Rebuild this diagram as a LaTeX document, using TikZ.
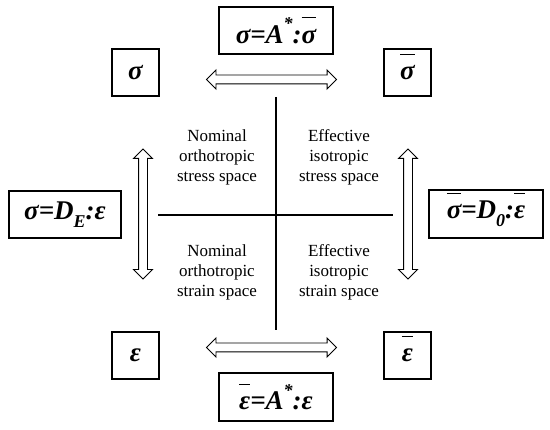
\documentclass[tikz,border=0pt]{standalone}
\usepackage{fontspec}
\setmainfont{Liberation Serif}
\usetikzlibrary{shapes.arrows,calc}
\newcommand\ovb[1]{\setbox0\hbox{#1}\rlap{\smash{\raisebox{0.92em}{\rule{\wd0}{1.1pt}}}}\box0}
\newcommand\subx[1]{\raisebox{-0.3em}{\fontsize{18}{18}\selectfont #1}}
\newcommand\supx[1]{\raisebox{0.5em}{\fontsize{18}{18}\selectfont #1}}
\tikzset{
  eqbox/.style={draw, line width=1.3pt, minimum width=114pt, minimum height=47pt, inner sep=0pt,
    font=\fontsize{27}{28}\selectfont\bfseries\itshape},
  symbox/.style={draw, line width=1.3pt, minimum width=47pt, minimum height=47pt, inner sep=0pt,
    font=\fontsize{27}{28}\selectfont\bfseries\itshape},
  spacelabel/.style={align=center, font=\fontsize{17}{20}\selectfont, inner sep=0pt},
  dblarr/.style={double arrow, draw, line width=0.9pt, inner xsep=0pt, inner ysep=4pt,
    double arrow head extend=5pt, minimum width=0pt, minimum height=#1},
  axisline/.style={line width=1.1pt}
}
\begin{document}
\begin{tikzpicture}[x=1pt,y=-1pt]
\useasboundingbox (0,0) rectangle (550,430);
% boxes
\node[eqbox] (top) at (276,30.5) {σ=A\supx{*}:\ovb{σ}};
\node[symbox] (sig) at (135.5,72.5) {σ};
\node[symbox] (sigb) at (407.5,72.5) {\ovb{σ}};
\node[eqbox, minimum width=112pt] (left) at (65,214.5) {σ=D\subx{E}:ε};
\node[eqbox, minimum height=48pt] (right) at (486,214) {\ovb{σ}=D\subx{0}:\ovb{ε}};
\node[symbox] (eps) at (135.5,355.5) {ε};
\node[symbox] (epsb) at (407.5,355.5) {\ovb{ε}};
\node[eqbox, minimum height=48pt] (bot) at (276,397) {\ovb{ε}=A\supx{*}:ε};
% cross
\coordinate (vt) at (276,97);
\coordinate (vb) at (276,330);
\coordinate (hl) at (158,215);
\coordinate (hr) at (393,215);
\draw[axisline] (vt) -- (vb);
\draw[axisline] (hl) -- (hr);
% double arrows
\node[dblarr=130pt] (atop) at ($(sig.east)!0.5!(sigb.west)+(0,7)$) {};
\node[dblarr=130pt] (abot) at ($(eps.east)!0.5!(epsb.west)+(0,-8)$) {};
\node[dblarr=130pt, rotate=90] (aleft) at ($(sig.south)!0.5!(eps.north)+(7.5,0)$) {};
\node[dblarr=130pt, rotate=90] (aright) at ($(sigb.south)!0.5!(epsb.north)+(0.5,0)$) {};
% labels
\node[spacelabel] (nss) at (217,157) {Nominal\\orthotropic\\stress space};
\node[spacelabel] (ess) at (339,157) {Effective\\isotropic\\stress space};
\node[spacelabel] (nst) at (217,272) {Nominal\\orthotropic\\strain space};
\node[spacelabel] (est) at (339,272) {Effective\\isotropic\\strain space};
\end{tikzpicture}
\end{document}
